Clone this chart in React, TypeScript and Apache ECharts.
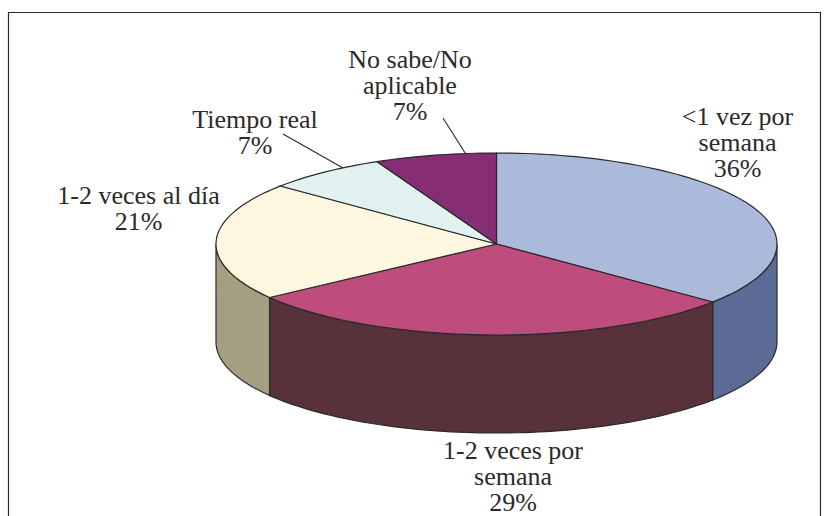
import React, { useEffect, useRef } from "react";
import * as echarts from "echarts";

const categories = ["<1 vez por semana", "1-2 veces por semana", "1-2 veces al día", "Tiempo real", "No sabe/No aplicable"];
const values = [36, 29, 21, 7, 7];
const labelLines = [
  ["<1 vez por", "semana"],
  ["1-2 veces por", "semana"],
  ["1-2 veces al día"],
  ["Tiempo real"],
  ["No sabe/No", "aplicable"],
];
const topColors = ["#ABB9DB", "#BE4C7C", "#FDF7E0", "#E2F2F0", "#862D76"];
const wallColors = ["#5C6A96", "#57323A", "#A59F82", "#8F9A98", "#57204E"];
const labelAnchors = [
  [737.5, 125],
  [513, 459],
  [138.5, 204],
  [255, 128],
  [410, 68],
];

const CX = 496.5, CY = 244, RX = 280.5, RY = 91, DEPTH = 98;
const LINE = "#2B2A2A";
const FONT = '"Liberation Serif", "Times New Roman", serif';
const LEADING = 26.4;
const MID_OFFSET = 9;

const pt = (deg: number, dy = 0): number[] => {
  const r = (deg * Math.PI) / 180;
  return [CX + RX * Math.sin(r), CY - RY * Math.cos(r) + dy];
};
const arc = (a: number, b: number, dy = 0): number[][] => {
  const n = Math.max(2, Math.ceil(Math.abs(b - a) / 1.5));
  const out: number[][] = [];
  for (let i = 0; i <= n; i++) out.push(pt(a + ((b - a) * i) / n, dy));
  return out;
};

export default function App() {
  const ref = useRef<HTMLDivElement>(null);
  useEffect(() => {
    document.body.style.margin = "0";
    const chart = echarts.init(ref.current!, undefined, { renderer: "svg" });
    const total = values.reduce((s, v) => s + v, 0);
    const starts = values.map((_, i) => values.slice(0, i).reduce((s, v) => s + v, 0));

    const texts: any[] = [];
    labelLines.forEach((lines, i) => {
      const all = [...lines, `${Math.round((values[i] / total) * 100)}%`];
      all.forEach((t, j) => {
        texts.push({
          type: "text",
          x: labelAnchors[i][0],
          y: labelAnchors[i][1] + j * LEADING - MID_OFFSET,
          silent: true,
          style: {
            text: t,
            fill: "#2B2A29",
            font: `26px ${FONT}`,
            align: "center",
            verticalAlign: "middle",
          },
        });
      });
    });

    chart.setOption({
      animation: false,
      backgroundColor: "#ffffff",
      graphic: [
        {
          type: "polyline",
          silent: true,
          shape: { points: [[8.5, 516], [8.5, 12.5], [820.5, 12.5], [820.5, 516]] },
          style: { stroke: "#2B2A2A", lineWidth: 1.2, fill: "none" },
        },
        {
          type: "line",
          silent: true,
          shape: { x1: 443, y1: 118, x2: 467, y2: 156 },
          style: { stroke: LINE, lineWidth: 1.1 },
        },
        {
          type: "line",
          silent: true,
          shape: { x1: 283, y1: 134, x2: 343, y2: 168 },
          style: { stroke: LINE, lineWidth: 1.1 },
        },
        ...texts,
      ],
      series: [
        {
          type: "custom",
          coordinateSystem: "none",
          silent: true,
          data: values.map((v, i) => ({ name: categories[i], value: [v, starts[i]] })),
          renderItem: (params: any, api: any) => {
            const i = params.dataIndex;
            const a = (api.value(1) / total) * 360;
            const b = ((api.value(1) + api.value(0)) / total) * 360;
            const children: any[] = [];
            const wa = Math.max(a, 90);
            const wb = Math.min(b, 270);
            if (wb > wa) {
              children.push({
                type: "polygon",
                shape: { points: [...arc(wa, wb), ...arc(wb, wa, DEPTH)] },
                style: { fill: wallColors[i], stroke: LINE, lineWidth: 1.2 },
              });
            }
            children.push({
              type: "polygon",
              shape: { points: [[CX, CY], ...arc(a, b)] },
              style: { fill: topColors[i], stroke: LINE, lineWidth: 1.2 },
            });
            return { type: "group", children };
          },
        },
      ],
    });
    return () => chart.dispose();
  }, []);
  return <div ref={ref} style={{ width: 826, height: 516 }} />;
}
